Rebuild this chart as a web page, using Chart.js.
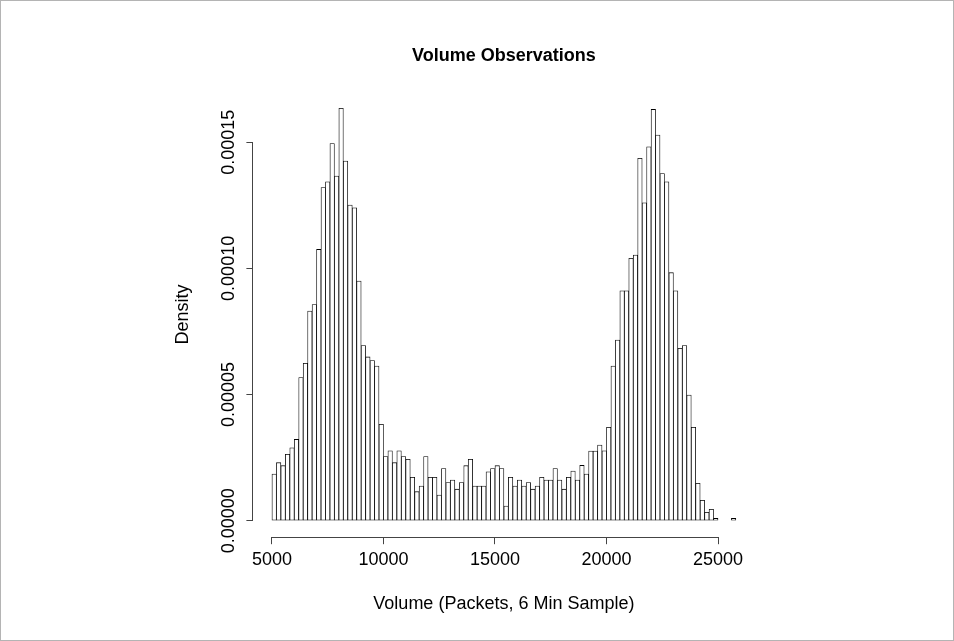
<!DOCTYPE html>
<html>
<head>
<meta charset="utf-8">
<title>Volume Observations</title>
<script src="https://cdn.jsdelivr.net/npm/chart.js@4.4.0/dist/chart.umd.min.js"></script>
<style>
  html, body { margin: 0; padding: 0; background: #fff; }
  canvas { display: block; outline: 1px solid #b4b4b4; outline-offset: -1px; }
</style>
</head>
<body>
<canvas id="volumeHist" width="954" height="641"></canvas>
<script>
// histogram bins (left edge of each 200-packet bin)
const binWidth = 200;
const binStarts = [
  5000, 5200, 5400, 5600, 5800, 6000, 6200, 6400, 6600, 6800,
  7000, 7200, 7400, 7600, 7800, 8000, 8200, 8400, 8600, 8800,
  9000, 9200, 9400, 9600, 9800, 10000, 10200, 10400, 10600, 10800,
  11000, 11200, 11400, 11600, 11800, 12000, 12200, 12400, 12600, 12800,
  13000, 13200, 13400, 13600, 13800, 14000, 14200, 14400, 14600, 14800,
  15000, 15200, 15400, 15600, 15800, 16000, 16200, 16400, 16600, 16800,
  17000, 17200, 17400, 17600, 17800, 18000, 18200, 18400, 18600, 18800,
  19000, 19200, 19400, 19600, 19800, 20000, 20200, 20400, 20600, 20800,
  21000, 21200, 21400, 21600, 21800, 22000, 22200, 22400, 22600, 22800,
  23000, 23200, 23400, 23600, 23800, 24000, 24200, 24400, 24600, 24800,
  25000, 25200, 25400, 25600
];
const density = [
  1.85e-5, 2.30e-5, 2.18e-5, 2.63e-5, 2.89e-5, 3.22e-5, 5.67e-5, 6.24e-5, 8.31e-5, 8.57e-5,
  10.75e-5, 13.20e-5, 13.43e-5, 14.95e-5, 13.66e-5, 16.34e-5, 14.25e-5, 12.51e-5, 12.40e-5, 9.50e-5,
  6.94e-5, 6.49e-5, 6.35e-5, 6.13e-5, 3.82e-5, 2.54e-5, 2.77e-5, 2.30e-5, 2.77e-5, 2.54e-5,
  2.43e-5, 1.72e-5, 1.15e-5, 1.37e-5, 2.54e-5, 1.72e-5, 1.72e-5, 1.02e-5, 2.07e-5, 1.51e-5,
  1.61e-5, 1.25e-5, 1.51e-5, 2.18e-5, 2.43e-5, 1.37e-5, 1.37e-5, 1.37e-5, 1.94e-5, 2.07e-5,
  2.18e-5, 2.07e-5, 0.58e-5, 1.72e-5, 1.37e-5, 1.61e-5, 1.37e-5, 1.51e-5, 1.25e-5, 1.37e-5,
  1.72e-5, 1.61e-5, 1.61e-5, 2.07e-5, 1.61e-5, 1.25e-5, 1.72e-5, 1.97e-5, 1.61e-5, 2.19e-5,
  1.85e-5, 2.76e-5, 2.76e-5, 3.00e-5, 2.77e-5, 3.70e-5, 6.13e-5, 7.16e-5, 9.11e-5, 9.11e-5,
  10.40e-5, 10.53e-5, 14.36e-5, 12.60e-5, 14.82e-5, 16.30e-5, 15.28e-5, 13.76e-5, 13.43e-5, 9.83e-5,
  9.11e-5, 6.83e-5, 6.94e-5, 4.98e-5, 3.70e-5, 1.48e-5, 0.81e-5, 0.33e-5, 0.45e-5, 0.09e-5,
  0, 0, 0, 0.09e-5
];
const xTicks = [5000, 10000, 15000, 20000, 25000];
const yTicks = [0, 0.00005, 0.0001, 0.00015];
const xRange = [4168, 26632];
const yRange = [-0.00000654, 0.0001699];

const fontFamily = '"Liberation Sans", Arial, Helvetica, sans-serif';
Chart.defaults.font.family = fontFamily;
Chart.defaults.color = '#000';

// R-style axes: line only spans first..last tick, y labels parallel to axis
const rAxes = {
  id: 'rAxes',
  afterDraw(chart) {
    const { ctx, scales: { x, y } } = chart;
    ctx.save();
    ctx.strokeStyle = '#444';
    ctx.lineWidth = 1;
    ctx.beginPath();
    const by = Math.round(x.top) + 0.5;
    ctx.moveTo(x.getPixelForValue(xTicks[0]), by);
    ctx.lineTo(x.getPixelForValue(xTicks[xTicks.length - 1]), by);
    const bx = Math.round(y.right) - 0.5;
    ctx.moveTo(bx, y.getPixelForValue(yTicks[0]));
    ctx.lineTo(bx, y.getPixelForValue(yTicks[yTicks.length - 1]));
    ctx.stroke();

    ctx.fillStyle = '#000';
    ctx.font = '18px ' + fontFamily;
    ctx.textAlign = 'center';
    ctx.textBaseline = 'middle';
    y.ticks.forEach((t, i) => {
      ctx.save();
      ctx.translate(y.right - 24, y.getPixelForTick(i));
      ctx.rotate(-Math.PI / 2);
      ctx.fillText(t.label, 0, 0);
      ctx.restore();
    });
    ctx.restore();
  }
};

const ctx = document.getElementById('volumeHist').getContext('2d');
new Chart(ctx, {
  type: 'bar',
  data: {
    datasets: [{
      data: binStarts.map((s, i) => ({ x: s + binWidth / 2, y: density[i] })),
      backgroundColor: '#fff',
      borderColor: '#000',
      borderWidth: 0.8,
      borderSkipped: false,
      barPercentage: 1,
      categoryPercentage: 1
    }]
  },
  options: {
    responsive: false,
    animation: false,
    layout: { padding: { left: 0, right: 199.6, top: 0, bottom: 0 } },
    plugins: {
      legend: { display: false },
      tooltip: { enabled: false },
      title: {
        display: true,
        text: 'Volume Observations',
        fullSize: false,
        color: '#000',
        font: { size: 18, weight: 'bold' },
        padding: { top: 45.2, bottom: 25.2 }
      }
    },
    scales: {
      x: {
        type: 'linear',
        min: xRange[0],
        max: xRange[1],
        offset: false,
        border: { display: false },
        grid: { display: true, drawOnChartArea: false, drawTicks: true, tickLength: 7, color: '#444', offset: false },
        afterBuildTicks: s => { s.ticks = xTicks.map(v => ({ value: v })); },
        ticks: {
          autoSkip: false,
          maxRotation: 0,
          padding: 5,
          font: { size: 18 },
          color: '#000',
          callback: v => String(v)
        },
        title: {
          display: true,
          text: 'Volume (Packets, 6 Min Sample)',
          font: { size: 18 },
          color: '#000',
          padding: { top: 0, bottom: 26.2 }
        },
        afterFit: s => { s.height = 103.8; }
      },
      y: {
        type: 'linear',
        min: yRange[0],
        max: yRange[1],
        border: { display: false },
        grid: { display: true, drawOnChartArea: false, drawTicks: true, tickLength: 7, color: '#444' },
        afterBuildTicks: s => { s.ticks = yTicks.map(v => ({ value: v })); },
        ticks: {
          display: false,
          callback: v => v.toFixed(5)
        },
        title: {
          display: true,
          text: 'Density',
          font: { size: 18 },
          color: '#000',
          padding: { top: 172.2, bottom: 0 }
        },
        afterFit: s => { s.width = 253.4; }
      }
    }
  },
  plugins: [rAxes]
});
</script>
</body>
</html>
